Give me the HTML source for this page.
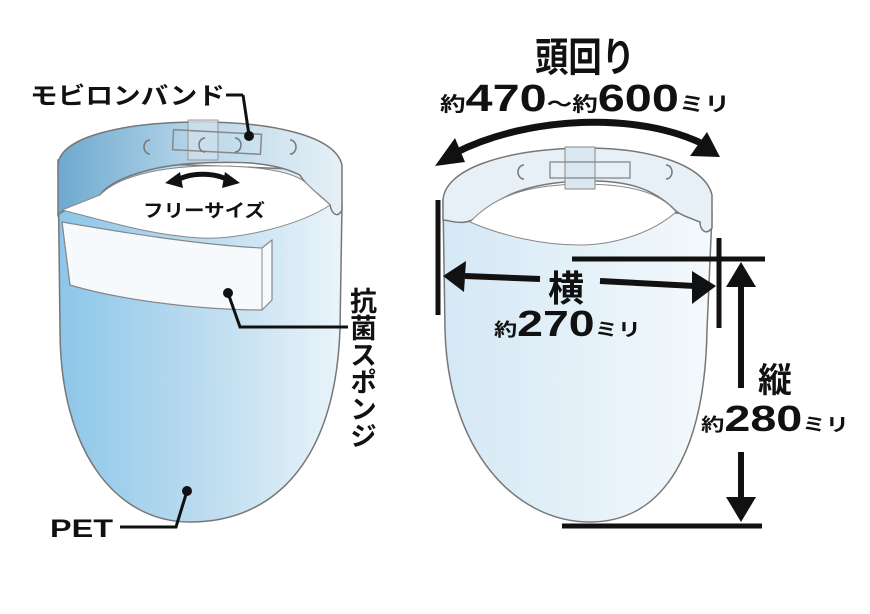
<!DOCTYPE html>
<html><head><meta charset="utf-8"><style>
html,body{margin:0;padding:0;background:#fff;}
svg{display:block;}
text{font-family:"Liberation Sans","Noto Sans CJK JP",sans-serif;font-weight:bold;fill:#111;}
</style></head><body>
<svg width="870" height="614" viewBox="0 0 870 614" xmlns="http://www.w3.org/2000/svg">
<defs>
<linearGradient id="lg" x1="0" x2="1" y1="0" y2="0">
<stop offset="0" stop-color="#8cc6e8"/><stop offset="0.6" stop-color="#c4e0f1"/><stop offset="1" stop-color="#eaf4fa"/></linearGradient>
<linearGradient id="lb" x1="0" x2="1"><stop offset="0" stop-color="#6ea9cf"/><stop offset="0.5" stop-color="#b8d7ea"/><stop offset="1" stop-color="#e6f0f6"/></linearGradient>
<linearGradient id="rg" x1="0" x2="1"><stop offset="0" stop-color="#d4e8f5"/><stop offset="1" stop-color="#f4f9fc"/></linearGradient>
</defs>

<path d="M58,160 L60,330 C60,450 115,522 190,522 C275,522 335,460 340,330 L342,205 C340,185 330,175 320,170 L58,160 Z" fill="url(#lg)" stroke="#777" stroke-width="1.5"/>
<path d="M58,165 C60,135 130,122 200,122 C270,122 335,135 342,165 L342,210 C338,218 332,215 330,205 C320,195 305,185 300,175 C270,160 230,162 200,163 C150,165 110,180 100,195 C80,205 62,210 58,215 Z" fill="url(#lb)" stroke="#777" stroke-width="1.5"/>
<path d="M100,195 C120,175 160,168 200,166 C250,165 290,170 305,182 C318,195 325,200 330,205 C300,225 240,240 200,238 C150,235 110,222 62,210 Z" fill="#fff" stroke="#888" stroke-width="1"/>
<path d="M62,222 C120,232 200,245 262,248 L272,240 L272,300 L262,310 C200,310 120,300 70,285 Z" fill="#f6fafd" stroke="#888" stroke-width="1.2"/>
<path d="M262,248 L262,310 M62,222 L70,285" stroke="#888" fill="none"/>
<rect x="188" y="120" width="30" height="40" fill="#cfe0ec" stroke="#888" opacity="0.8"/>
<rect x="173" y="132" width="88" height="20" fill="none" stroke="#888" stroke-width="1.5" transform="rotate(3 217 142)"/>
<path d="M150,140 a6,7 0 1,0 0,14 M290,140 a6,7 0 1,1 0,14 M205,138 a6,7 0 1,0 0,14 M235,138 a6,7 0 1,1 0,14" fill="none" stroke="#777" stroke-width="1.5"/>
<line x1="226" y1="95" x2="243" y2="95" stroke="#111" stroke-width="3"/>
<line x1="243" y1="95" x2="249" y2="135" stroke="#111" stroke-width="3"/>
<circle cx="249" cy="136" r="5" fill="#111"/>
<text x="30" y="104" font-size="24" textLength="195" lengthAdjust="spacingAndGlyphs">モビロンバンド</text>
<path d="M176,181 C190,172 215,172 230,181" stroke="#111" stroke-width="5" fill="none"/>
<polygon points="165,183 180,172 183,188" fill="#111"/>
<polygon points="240,183 225,172 222,188" fill="#111"/>
<text x="143" y="217" font-size="18" textLength="122" lengthAdjust="spacingAndGlyphs">フリーサイズ</text>
<circle cx="228" cy="293" r="5" fill="#111"/>
<polyline points="228,293 240,327 348,327" fill="none" stroke="#111" stroke-width="3"/>
<text font-size="27" x="361" y="287" style="writing-mode:vertical-rl">抗菌スポンジ</text>
<circle cx="187" cy="491" r="5" fill="#111"/>
<polyline points="187,491 176,527 120,527" fill="none" stroke="#111" stroke-width="3"/>
<text x="50" y="537" font-size="25" textLength="63" lengthAdjust="spacingAndGlyphs">PET</text>

<path d="M443,200 L445,330 C448,450 515,522 590,522 C665,522 705,450 707,330 L712,215 L443,200 Z" fill="url(#rg)" stroke="#777" stroke-width="1.5"/>
<path d="M443,200 C445,170 500,150 580,148 C650,147 705,165 712,195 L712,228 C706,236 700,230 700,222 C690,218 680,215 675,210 C650,185 620,180 580,181 C530,183 500,195 480,215 C465,228 450,220 443,220 Z" fill="#e6f0f6" stroke="#777" stroke-width="1.5"/>
<path d="M470,222 C500,190 540,185 580,184 C630,184 660,192 676,212 C650,235 610,245 580,245 C540,245 500,235 470,222 Z" fill="#fff" stroke="#888" stroke-width="1"/>
<rect x="565" y="147" width="30" height="42" fill="#d9e7f0" stroke="#888"/>
<rect x="550" y="162" width="80" height="16" fill="none" stroke="#888" stroke-width="1.3"/>
<path d="M524,165 a6,7 0 1,0 0,14 M666,165 a6,7 0 1,1 0,14" fill="none" stroke="#777" stroke-width="1.5"/>
<text x="535" y="71" font-size="40" textLength="100" lengthAdjust="spacingAndGlyphs">頭回り</text>
<text x="440" y="111" font-size="20" textLength="290" lengthAdjust="spacingAndGlyphs">約<tspan font-size="38">470</tspan>〜約<tspan font-size="38">600</tspan><tspan font-size="20">ミリ</tspan></text>
<path d="M455,153 C530,115 640,112 705,145" stroke="#111" stroke-width="7" fill="none"/>
<polygon points="435,166 455,138 465,162" fill="#111"/>
<polygon points="720,157 690,156 707,132" fill="#111"/>
<line x1="438" y1="200" x2="438" y2="315" stroke="#111" stroke-width="5"/>
<line x1="719" y1="238" x2="719" y2="328" stroke="#111" stroke-width="5"/>
<line x1="572" y1="259" x2="765" y2="259" stroke="#111" stroke-width="5"/>
<line x1="562" y1="526" x2="762" y2="526" stroke="#111" stroke-width="5"/>
<line x1="465" y1="276" x2="540" y2="279" stroke="#111" stroke-width="6"/>
<line x1="600" y1="281" x2="695" y2="286" stroke="#111" stroke-width="6"/>
<polygon points="443,276 466,261 464,292" fill="#111"/>
<polygon points="716,286 692,271 692,304" fill="#111"/>
<text x="548" y="301" font-size="36">横</text>
<text x="494" y="336" font-size="18" textLength="147" lengthAdjust="spacingAndGlyphs">約<tspan font-size="36">270</tspan>ミリ</text>
<line x1="741" y1="280" x2="741" y2="388" stroke="#111" stroke-width="6"/>
<line x1="741" y1="452" x2="741" y2="505" stroke="#111" stroke-width="6"/>
<polygon points="741,262 726,287 756,287" fill="#111"/>
<polygon points="741,522 726,497 756,497" fill="#111"/>
<text x="758" y="392" font-size="34">縦</text>
<text x="701" y="431" font-size="18" textLength="148" lengthAdjust="spacingAndGlyphs">約<tspan font-size="36">280</tspan>ミリ</text>
</svg>
</body></html>
